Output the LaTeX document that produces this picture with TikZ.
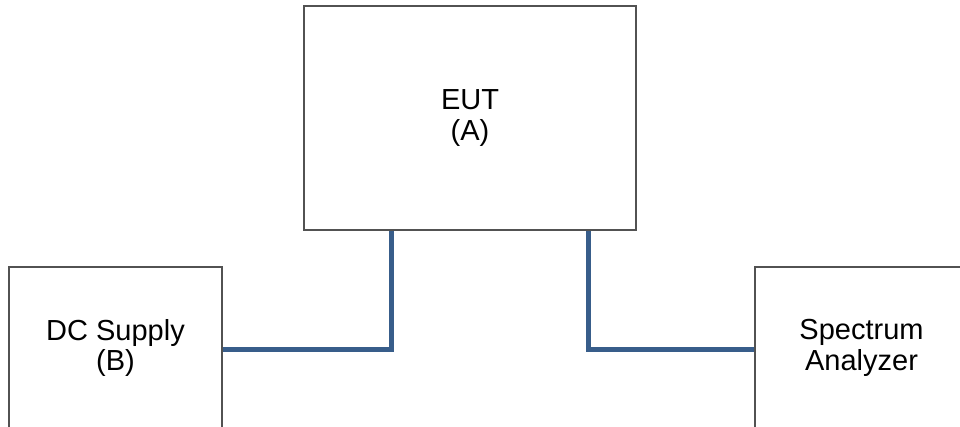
\documentclass[tikz,border=0pt]{standalone}
\usepackage{fontspec}
\setmainfont{Liberation Sans}
\begin{document}
\begin{tikzpicture}[x=1pt,y=-1pt,
  unit/.style={draw=black!68, line width=1.5pt, fill=white, inner sep=0pt,
    align=center, font=\fontsize{29}{30.5}\selectfont},
  cable/.style={draw=cableblue, line width=5pt}]
\definecolor{cableblue}{RGB}{56,93,138}
\useasboundingbox (0,0) rectangle (960,427);
\clip (0,0) rectangle (960,427);
% equipment under test
\node[unit, minimum width=332pt, minimum height=224pt] (eut) at (470,118) {EUT\\(A)};
% supply and measuring instrument
\node[unit, minimum width=213pt, minimum height=162pt] (dc) at (115.5,348) {DC Supply\\(B)};
\node[unit, minimum width=213pt, minimum height=162pt] (sa) at (861.5,348) {Spectrum\\Analyzer};
% cabling
\draw[cable] ([xshift=-79pt]eut.south) |- ([yshift=-1.5pt]dc.east);
\draw[cable] ([xshift=118pt]eut.south) |- ([yshift=-1.5pt]sa.west);
\end{tikzpicture}
\end{document}
